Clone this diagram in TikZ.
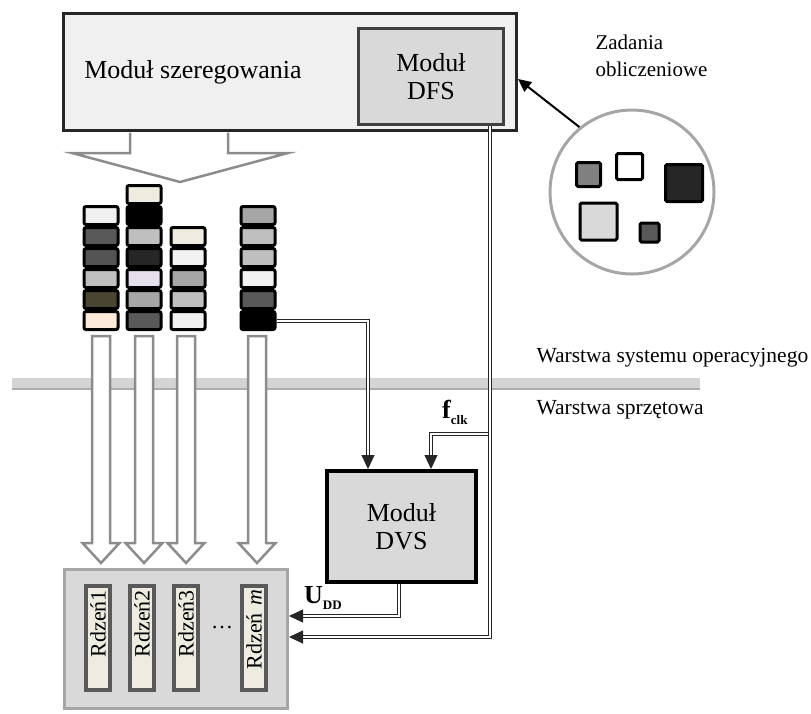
\documentclass[tikz,border=0pt]{standalone}
\usepackage{fontspec}
\setmainfont{Liberation Serif}
\usetikzlibrary{arrows.meta,calc}

\definecolor{qpeach}{HTML}{FDE9D9}
\definecolor{qolive}{HTML}{4A4530}
\definecolor{qcream}{HTML}{EEECE1}
\definecolor{qlilac}{HTML}{E6E0EC}

\begin{document}
\begin{tikzpicture}[x=1pt,y=-1pt,
  every node/.style={font=\fontsize{26}{28}\selectfont},
  mainbox/.style={draw=black!85, line width=3, fill=black!6},
  modbox/.style={draw=black!75, line width=3, fill=black!15, align=center},
  cell/.style={draw=black, line width=3, rounded corners=2, minimum width=34, minimum height=18, inner sep=0},
  task/.style={draw=black, line width=3, rounded corners=1.5, inner sep=0},
  hollow/.style={draw=black!45, line width=2.5, fill=white, line join=miter},
  core/.style={draw=black!65, line width=4, fill=qcream, rotate=90, minimum width=104, minimum height=24,
    text width=96, align=right, inner sep=4, font=\fontsize{22}{24}\selectfont},
  link/.style={draw=black!85, line width=1, double=white, double distance=2},
  tip/.style={-{Triangle[length=14pt,width=13pt]}},
  layer/.style={anchor=west, font=\fontsize{21.5}{24}\selectfont}]
  \useasboundingbox (0,0) rectangle (811,713);

  % layer border
  \fill[black!17] (12,378) rectangle (700,389);
  \draw[black!32, line width=1.5] (12,389) -- (700,389);
  \node[layer] (oslayer) at (533,358) {Warstwa systemu operacyjnego};
  \node[layer] (hwlayer) at (533,410) {Warstwa sprzętowa};

  \node[mainbox, minimum width=453, minimum height=117] (sched) at (290,72) {};
  \node (schedtxt) at (193,72) {Moduł szeregowania};
  \node[modbox, minimum width=145, minimum height=96] (dfs) at (431,76.5) {Moduł\\DFS};
  \draw[hollow] (130,132.5) -- (130,153) -- (72,153) -- (180,182) -- (288,153) -- (228,153) -- (228,132.5);

  \node[circle, draw=black!35, line width=3, minimum size=164] (pool) at (632,192) {};
  \node[task, fill=black!50, minimum size=24] (t1) at (588.5,174.5) {};
  \node[task, fill=white, minimum size=26] (t2) at (629.5,166.5) {};
  \node[task, fill=black!85, minimum size=37] (t3) at (684,183) {};
  \node[task, fill=black!15, minimum size=37] (t4) at (598.5,221.5) {};
  \node[task, fill=black!65, minimum size=19] (t5) at (649.5,232.5) {};
  \node[anchor=west, align=left, font=\fontsize{21}{27}\selectfont] (tasks) at (592,56) {Zadania\\obliczeniowe};
  \draw[line width=2, -{Triangle[length=13pt,width=12pt]}] (pool.129) -- ([yshift=-7]sched.east);

  \foreach \q/\x/\cols in {1/101/{qpeach,qolive,black!25,black!67,black!65,black!6},
      2/144/{black!65,black!35,qlilac,black!85,black!25,black,qcream},
      3/188/{black!5,black!25,black!35,black!5,qcream},
      4/258/{black,black!65,black!5,black!25,black!25,black!35}}{
    \foreach \c [count=\k] in \cols {
      \node[cell, fill=\c] (q\q-\k) at (\x,{320.5-21*(\k-1)}) {};
    }
  }

  \foreach \x in {101,144,186,257}{
    \draw[hollow] ({\x-9},336) -- ({\x+9},336) -- ({\x+9},543) -- ({\x+18.5},543) -- (\x,563)
      -- ({\x-18.5},543) -- ({\x-9},543) -- cycle;
  }

  \node[draw=black!35, fill=black!15, line width=3, minimum width=223, minimum height=139] (cores) at (176,639) {};
  \foreach \i/\x/\t in {1/98/Rdzeń1,2/142/Rdzeń2,3/186/Rdzeń3,m/254/Rdzeń \textit{m}}{
    \node[core] (core\i) at (\x,638) {\t};
  }
  \node (dots) at (222,627) {\fontsize{22}{24}\selectfont\dots};

  \node[modbox, draw=black, line width=4, minimum width=149, minimum height=111] (dvs) at (401.5,526.5) {Moduł\\DVS};

  \coordinate (dfsout) at ([xshift=59]dfs.south);
  \coordinate (fbranch) at (490,434);
  \draw[link, tip] (q4-1.east) -| ([xshift=-33.5]dvs.north);
  \draw[link, tip] (fbranch) -| ([xshift=29.5]dvs.north);
  \draw[link, tip] (dfsout) |- ([yshift=2]cores.east);
  \draw[link, tip] ([xshift=-2.5]dvs.south) |- ([yshift=23]cores.east);

  \node[anchor=base west, inner sep=0] (fclk) at (442,418) {\bfseries f\raisebox{-6pt}{\fontsize{13}{13}\selectfont clk}};
  \node[anchor=base west, inner sep=0] (udd) at (304,603) {\bfseries U\raisebox{-6pt}{\fontsize{13}{13}\selectfont DD}};
\end{tikzpicture}
\end{document}
